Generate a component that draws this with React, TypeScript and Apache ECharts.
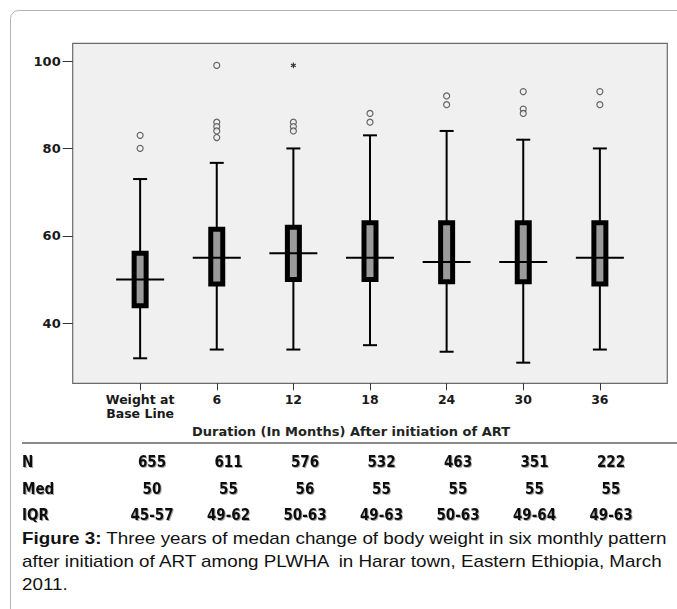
import React, { useEffect, useRef } from "react";
import * as echarts from "echarts";

// ---- data ----
const categories = ["Weight at\nBase Line", "6", "12", "18", "24", "30", "36"];
const lowWhisker = [32, 34, 34, 35, 33.5, 31, 34];
const q1 = [44, 49, 50, 50, 49.5, 49.5, 49];
const median = [50, 55, 56, 55, 54, 54, 55];
const q3 = [56, 61.5, 62, 63, 63, 63, 63];
const highWhisker = [73, 76.7, 80, 83, 84, 82, 80];
const outliers: [number, number][] = [
  [0, 83], [0, 80],
  [1, 99], [1, 86], [1, 85], [1, 84], [1, 82.5],
  [2, 86], [2, 85], [2, 84],
  [3, 88], [3, 86],
  [4, 92], [4, 90],
  [5, 93], [5, 89], [5, 88],
  [6, 93], [6, 90],
];
const extremes: [number, number][] = [[2, 99]];
const yTicks = [40, 60, 80, 100];
const xTicks = [0, 1, 2, 3, 4, 5, 6];
const xAxisTitle = "Duration (In Months) After initiation of ART";

const tableRowLabels = ["N", "Med", "IQR"];
const tableN = ["655", "611", "576", "532", "463", "351", "222"];
const tableMed = ["50", "55", "56", "55", "55", "55", "55"];
const tableIQR = ["45-57", "49-62", "50-63", "49-63", "50-63", "49-64", "49-63"];

const captionBold = "Figure 3:";
const captionLine1 = " Three years of medan change of body weight in six monthly pattern";
const captionLine2 = "after initiation of ART among PLWHA  in Harar town, Eastern Ethiopia, March";
const captionLine3 = "2011.";

export default function App() {
  const ref = useRef<HTMLDivElement>(null);

  useEffect(() => {
    if (!ref.current) return;
    const chart = echarts.init(ref.current, null, { renderer: "svg" });

    const boxData = categories.map((_, i) => [
      i,
      lowWhisker[i],
      q1[i],
      median[i],
      q3[i],
      highWhisker[i],
    ]);

    const axisFont = "DejaVu Sans";
    const tableFont = "DejaVu Sans";

    const tableRows = [tableN, tableMed, tableIQR];
    const rowY = [462, 489, 515];
    const colX = (i: number) => 152 + 76.5 * i;
    const tableGraphics: any[] = [];
    const shadow = {
      textShadowColor: "rgba(0,0,0,0.35)",
      textShadowBlur: 1.5,
      textShadowOffsetX: 1,
      textShadowOffsetY: 1,
    };
    tableRowLabels.forEach((lab, r) => {
      tableGraphics.push({
        type: "text",
        x: 22,
        y: rowY[r],
        scaleX: 0.9,
        style: {
          text: lab,
          font: `bold 15px "${tableFont}"`,
          fill: "#111",
          align: "left",
          verticalAlign: "middle",
          ...shadow,
        },
      });
      tableRows[r].forEach((v, c) => {
        tableGraphics.push({
          type: "text",
          x: colX(c),
          y: rowY[r],
          scaleX: 0.9,
          style: {
            text: v,
            font: `bold 15px "${tableFont}"`,
            fill: "#111",
            align: "center",
            verticalAlign: "middle",
            ...shadow,
          },
        });
      });
    });

    const capScale = 1.176;
    const capFont = `16px "Liberation Sans", Arial, sans-serif`;
    const capY = [539, 562, 585];

    const option: any = {
      animation: false,
      backgroundColor: "#ffffff",
      grid: {
        left: 72.7,
        top: 43.3,
        right: 9.7,
        bottom: 225.7,
        show: true,
        backgroundColor: "#f0f0f0",
        borderColor: "#6a6a6a",
        borderWidth: 1.2,
        outerBoundsMode: "none",
      },
      xAxis: {
        type: "value",
        min: -0.88,
        max: 6.88,
        splitLine: { show: false },
        axisLine: { show: false, onZero: false },
        axisTick: {
          show: true,
          length: 7,
          customValues: xTicks,
          lineStyle: { color: "#333", width: 1 },
        },
        axisLabel: {
          customValues: xTicks,
          formatter: (v: number) => categories[Math.round(v)] ?? "",
          margin: 9,
          fontFamily: axisFont,
          fontWeight: "bold",
          fontSize: 12.5,
          lineHeight: 14,
          color: "#1a1a1a",
        },
        name: xAxisTitle,
        nameLocation: "middle",
        nameGap: 36,
        nameTextStyle: {
          fontFamily: axisFont,
          fontWeight: "bold",
          fontSize: 13,
          color: "#222",
          padding: [0, 38, 0, 0],
        },
      },
      yAxis: {
        type: "value",
        min: 26.28,
        max: 104.05,
        splitLine: { show: false },
        axisLine: { show: false, onZero: false },
        axisTick: {
          show: true,
          length: 10,
          customValues: yTicks,
          lineStyle: { color: "#333", width: 1 },
        },
        axisLabel: {
          customValues: yTicks,
          margin: 12,
          fontFamily: axisFont,
          fontWeight: "bold",
          fontSize: 13,
          color: "#1a1a1a",
        },
      },
      graphic: [
        {
          type: "rect",
          shape: { x: 10.5, y: 10.5, width: 720, height: 700, r: 8 },
          style: { fill: "none", stroke: "#b5b5b5", lineWidth: 1 },
          silent: true,
          z: -10,
        },
        {
          type: "line",
          shape: { x1: 22, y1: 443, x2: 677, y2: 443 },
          style: { stroke: "#8a8a8a", lineWidth: 2 },
          silent: true,
        },
        ...tableGraphics,
        {
          type: "text",
          x: 22,
          y: capY[0],
          scaleX: capScale,
          style: {
            text: `{b|${captionBold}}${captionLine1}`,
            font: capFont,
            fill: "#111",
            verticalAlign: "middle",
            rich: {
              b: { font: `bold 16px "Liberation Sans", Arial, sans-serif`, fill: "#111" },
            },
          },
        },
        {
          type: "text",
          x: 22,
          y: capY[1],
          scaleX: capScale,
          style: { text: captionLine2, font: capFont, fill: "#111", verticalAlign: "middle" },
        },
        {
          type: "text",
          x: 22,
          y: capY[2],
          scaleX: capScale,
          style: { text: captionLine3, font: capFont, fill: "#111", verticalAlign: "middle" },
        },
      ],
      series: [
        {
          type: "custom",
          name: "box",
          data: boxData,
          encode: { x: 0, y: [1, 2, 3, 4, 5] },
          renderItem: (params: any, api: any) => {
            const i = api.value(0);
            const cx = api.coord([i, api.value(1)])[0];
            const yLow = api.coord([i, api.value(1)])[1];
            const yQ1 = api.coord([i, api.value(2)])[1];
            const yMed = api.coord([i, api.value(3)])[1];
            const yQ3 = api.coord([i, api.value(4)])[1];
            const yHigh = api.coord([i, api.value(5)])[1];
            const stroke = { stroke: "#000", lineWidth: 2 };
            return {
              type: "group",
              children: [
                { type: "line", shape: { x1: cx, y1: yLow, x2: cx, y2: yQ1 }, style: stroke },
                { type: "line", shape: { x1: cx, y1: yQ3, x2: cx, y2: yHigh }, style: stroke },
                { type: "line", shape: { x1: cx - 7, y1: yLow, x2: cx + 7, y2: yLow }, style: stroke },
                { type: "line", shape: { x1: cx - 7, y1: yHigh, x2: cx + 7, y2: yHigh }, style: stroke },
                {
                  type: "rect",
                  shape: { x: cx - 6, y: yQ3, width: 12, height: yQ1 - yQ3 },
                  style: { fill: "#9a9a9a", stroke: "#000", lineWidth: 5 },
                },
                { type: "line", shape: { x1: cx - 24, y1: yMed, x2: cx + 24, y2: yMed }, style: stroke },
              ],
            };
          },
          z: 2,
        },
        {
          type: "scatter",
          name: "outliers",
          data: outliers,
          symbol: "circle",
          symbolSize: 6,
          itemStyle: { color: "#f0f0f0", borderColor: "#444", borderWidth: 1.2 },
          z: 3,
        },
        {
          type: "custom",
          name: "extremes",
          data: extremes,
          encode: { x: 0, y: 1 },
          renderItem: (params: any, api: any) => {
            const [x, y] = api.coord([api.value(0), api.value(1)]);
            const r = 2.8;
            const st = { stroke: "#333", lineWidth: 1.1 };
            const lines = [90, 30, 150].map((deg) => {
              const a = (deg * Math.PI) / 180;
              return {
                type: "line",
                shape: {
                  x1: x - r * Math.cos(a),
                  y1: y - r * Math.sin(a),
                  x2: x + r * Math.cos(a),
                  y2: y + r * Math.sin(a),
                },
                style: st,
              };
            });
            return { type: "group", children: lines };
          },
          z: 3,
        },
      ],
    };

    chart.setOption(option);
    return () => chart.dispose();
  }, []);

  return (
    <div
      ref={ref}
      style={{ position: "absolute", left: 0, top: 0, width: 677, height: 609, background: "#fff" }}
    />
  );
}
